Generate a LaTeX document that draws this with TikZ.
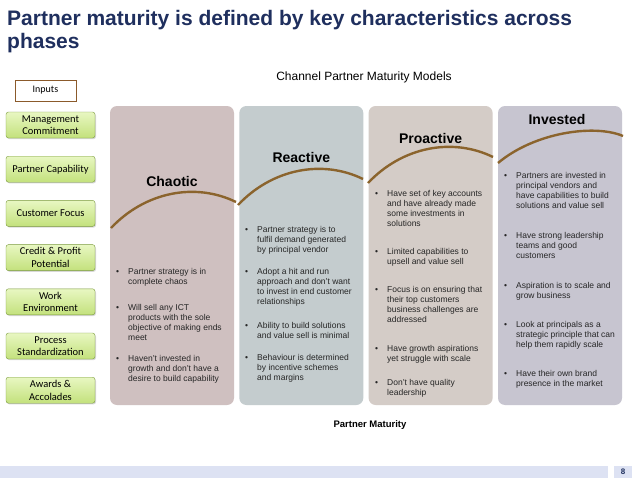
\documentclass[tikz,border=0pt]{standalone}
\usepackage{fontspec}
\setmainfont{Liberation Sans}
\newfontfamily\calibri{Carlito}
\usepackage{xcolor}
\definecolor{navy}{HTML}{1F2F5E}
\definecolor{chaoticbg}{HTML}{CFC0C0}
\definecolor{reactivebg}{HTML}{C4CCCE}
\definecolor{proactivebg}{HTML}{D4CCC7}
\definecolor{investedbg}{HTML}{C7C5D0}
\definecolor{arcbrown}{HTML}{8B642D}
\definecolor{greentop}{HTML}{E8F7C2}
\definecolor{greenbottom}{HTML}{C3E17C}
\definecolor{greenline}{HTML}{7A9A3C}
\definecolor{inputbrown}{HTML}{8B5A2B}
\definecolor{footerbg}{HTML}{DDE2F3}
\usepackage{tikz}
\usetikzlibrary{positioning, shadows}

\newcommand{\bitem}[1]{\makebox[12pt][l]{\textbullet}\begin{tabular}[t]{@{}l@{}}#1\end{tabular}}

\begin{document}
\begin{tikzpicture}[x=1pt, y=-1pt,
  inbox/.style={draw=greenline, rounded corners=2.5pt, top color=greentop,
        bottom color=greenbottom, minimum width=89pt, minimum height=26pt,
        inner sep=1pt, align=center, on grid,
        font=\calibri\fontsize{10.5}{12.5}\selectfont,
        drop shadow={shadow xshift=1pt, shadow yshift=-1.2pt, opacity=0.3}},
  panel/.style={rounded corners=7pt, minimum width=124pt,
        minimum height=299pt, inner sep=0pt, outer sep=0pt},
  phase/.style={font=\bfseries\fontsize{14}{16}\selectfont},
  bul/.style={anchor=base west, inner sep=0pt,
        font=\fontsize{8.5}{10.3}\selectfont, text=black!85},
  arcline/.style={draw=arcbrown, line width=2.4pt}]

  \useasboundingbox[fill=white] (0,0) rectangle (638,479);

  % title
  \node[anchor=north west, inner sep=0pt, align=left, text=navy,
        font=\bfseries\fontsize{21}{23}\selectfont] (title) at (7,10)
        {Partner maturity is defined by key characteristics across\\phases};

  \node[font=\fontsize{12}{14}\selectfont] (models) at (364,77)
        {Channel Partner Maturity Models};

  % inputs
  \node[draw=inputbrown, fill=white, minimum width=61pt, minimum height=21pt,
        inner sep=0pt, font=\calibri\fontsize{10}{12}\selectfont] (inputs)
        at (45.5,90.5) {Inputs};

  \node[inbox] (mgmt) at (50.5,125) {Management\\Commitment};
  \node[inbox, below=44.2pt of mgmt] (capab) {Partner Capability};
  \node[inbox, below=44.2pt of capab] (custfocus) {Customer Focus};
  \node[inbox, below=44.2pt of custfocus] (credit) {Credit \& Profit\\Potential};
  \node[inbox, below=44.2pt of credit] (workenv) {Work\\Environment};
  \node[inbox, below=44.2pt of workenv] (process) {Process\\Standardization};
  \node[inbox, below=44.2pt of process] (awards) {Awards \&\\Accolades};

  % phases
  \node[panel, fill=chaoticbg] (chaotic) at (172,255.5) {};
  \node[panel, fill=reactivebg] (reactive) at (301.3,255.5) {};
  \node[panel, fill=proactivebg] (proactive) at (430.6,255.5) {};
  \node[panel, fill=investedbg] (invested) at (560,255.5) {};

  \node[phase] (chaotictitle) at (172,181) {Chaotic};
  \node[phase] (reactivetitle) at (301.3,157) {Reactive};
  \node[phase] (proactivetitle) at (430.6,138) {Proactive};
  \node[phase] (investedtitle) at (557,119) {Invested};

  \draw[arcline] (111,228) .. controls (145,192) and (195,182) .. (236,202);
  \draw[arcline] (238,205) .. controls (272,169) and (322,159) .. (363,179);
  \draw[arcline] (368,183) .. controls (402,147) and (452,137) .. (493,157);
  \draw[arcline] (498,163) .. controls (535,132) and (595,124) .. (623,136);

  % chaotic
  \node[bul] (cha1) at (116,274) {\bitem{Partner strategy is in\\complete chaos}};
  \node[bul] (cha2) at (116,310) {\bitem{Will sell any ICT\\products with the sole\\objective of making ends\\meet}};
  \node[bul] (cha3) at (116,361) {\bitem{Haven't invested in\\growth and don't have a\\desire to build capability}};

  % reactive
  \node[bul] (rea1) at (245,232) {\bitem{Partner strategy is to\\fulfil demand generated\\by principal vendor}};
  \node[bul] (rea2) at (245,274) {\bitem{Adopt a hit and run\\approach and don't want\\to invest in end customer\\relationships}};
  \node[bul] (rea3) at (245,328) {\bitem{Ability to build solutions\\and value sell is minimal}};
  \node[bul] (rea4) at (245,360) {\bitem{Behaviour is determined\\by incentive schemes\\and margins}};

  % proactive
  \node[bul] (pro1) at (375,196) {\bitem{Have set of key accounts\\and have already made\\some investments in\\solutions}};
  \node[bul] (pro2) at (375,254) {\bitem{Limited capabilities to\\upsell and value sell}};
  \node[bul] (pro3) at (375,292) {\bitem{Focus is on ensuring that\\their top customers\\business challenges are\\addressed}};
  \node[bul] (pro4) at (375,351) {\bitem{Have growth aspirations\\yet struggle with scale}};
  \node[bul] (pro5) at (375,385) {\bitem{Don't have quality\\leadership}};

  % invested
  \node[bul] (inv1) at (504,178) {\bitem{Partners are invested in\\principal vendors and\\have capabilities to build\\solutions and value sell}};
  \node[bul] (inv2) at (504,238) {\bitem{Have strong leadership\\teams and good\\customers}};
  \node[bul] (inv3) at (504,288) {\bitem{Aspiration is to scale and\\grow business}};
  \node[bul] (inv4) at (504,327) {\bitem{Look at principals as a\\strategic principle that can\\help them rapidly scale}};
  \node[bul] (inv5) at (504,376) {\bitem{Have their own brand\\presence in the market}};

  \node[font=\bfseries\fontsize{9.5}{11}\selectfont] (maturity) at (370,425)
        {Partner Maturity};

  % footer
  \fill[footerbg] (0,466) rectangle (608,478);
  \node[fill=footerbg, minimum width=18pt, minimum height=12pt, inner sep=0pt,
        text=navy, font=\bfseries\fontsize{8}{9}\selectfont] (pagenum)
        at (623,472) {8};

\end{tikzpicture}
\end{document}
